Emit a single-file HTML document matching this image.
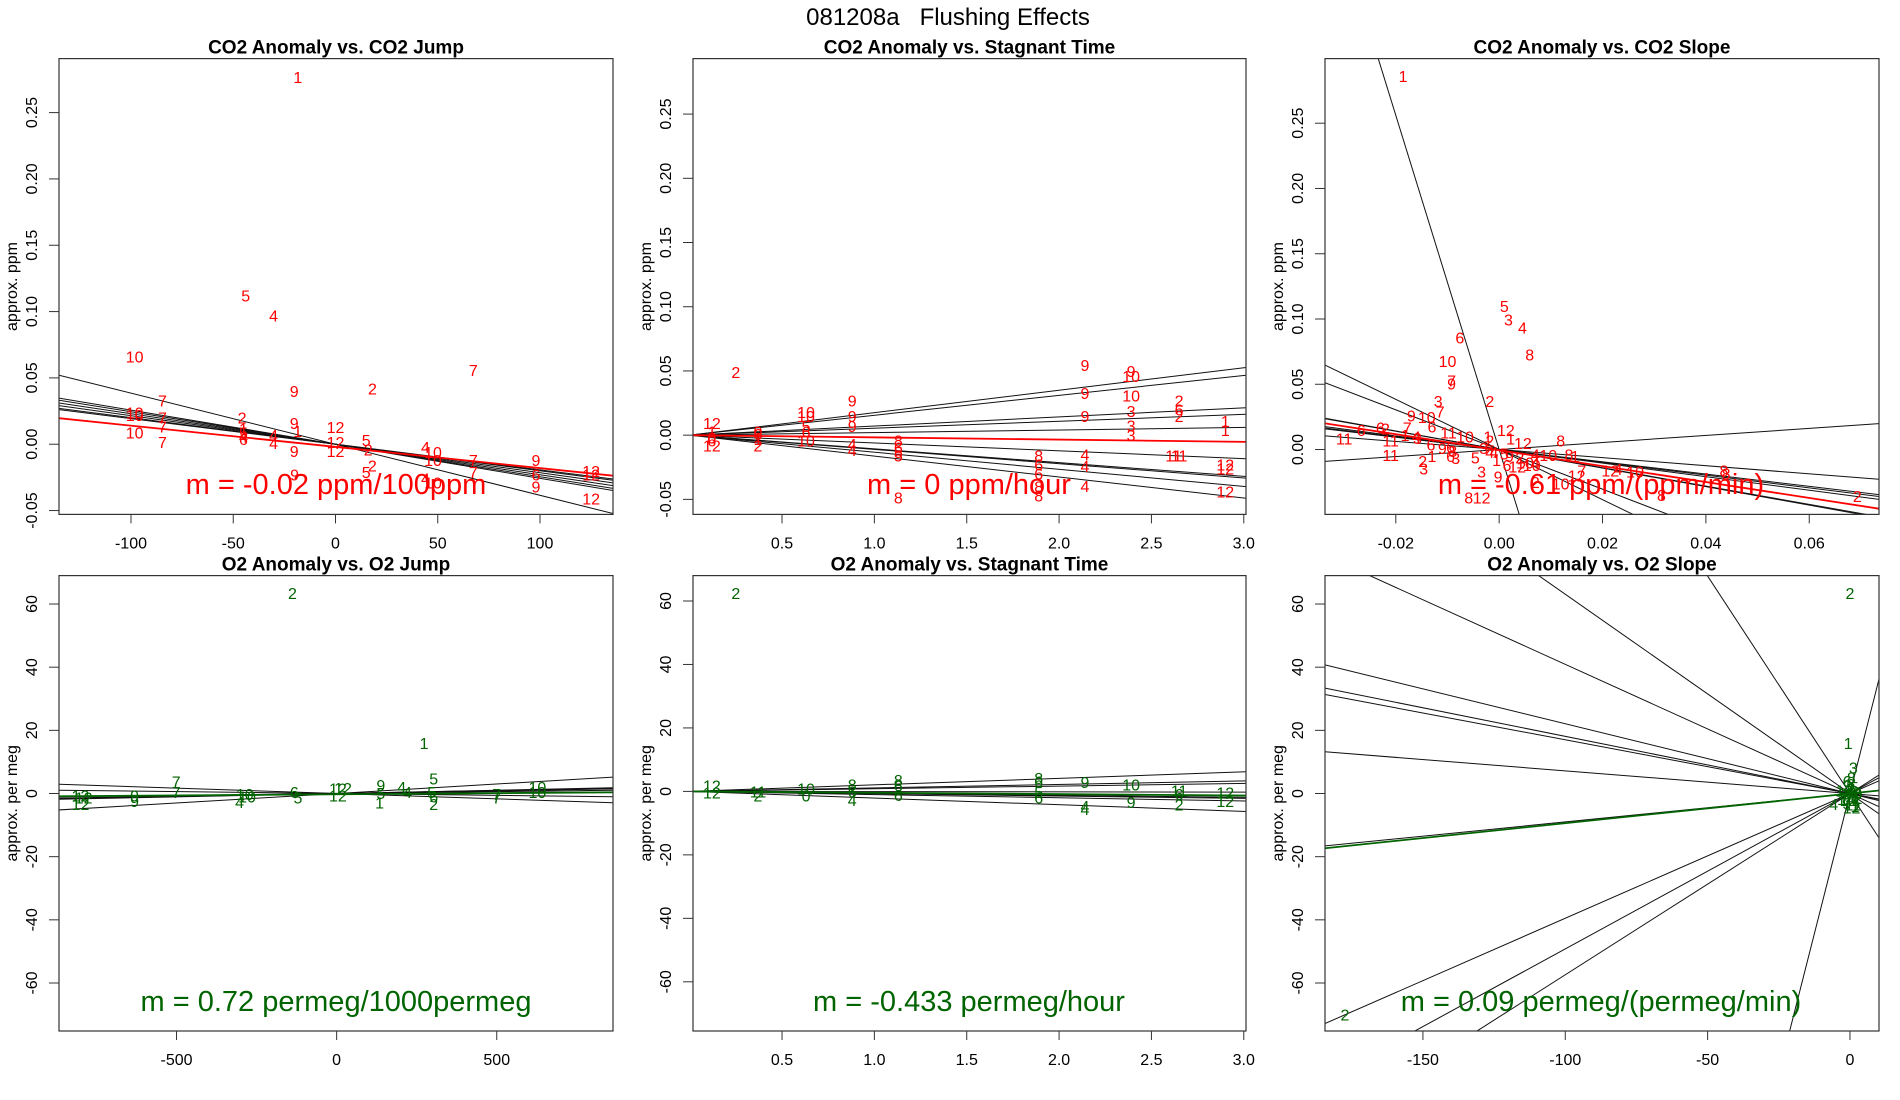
<!DOCTYPE html>
<html><head><meta charset="utf-8"><style>
html,body{margin:0;padding:0;background:#fff;overflow:hidden;width:1900px;height:1100px;}
svg{display:block;font-family:"Liberation Sans",Arial,sans-serif;}
</style></head><body>
<svg id="fig" width="1900" height="1100" viewBox="0 0 1900 1100" xmlns="http://www.w3.org/2000/svg">
<rect width="1900" height="1100" fill="#fff"/>
<text x="948" y="25" font-size="24" text-anchor="middle" xml:space="preserve" style="white-space:pre">081208a   Flushing Effects</text>
</svg>
<script>
// ---- Panel 1: CO2 Anomaly vs CO2 Jump ----
const p1X=[-18.4,-43.9,-30.3,-98.2,67.4,-20.2,18.1,-84.6,-98.2,-98.2,-84.6,-45.7,-20.2,-18.5,0,-84.6,-98.2,-84.6,-45,-45,-45,-45,-30.3,-30.3,-20.2,0,0,15,16,44,47.7,47.7,67.4,67.4,18,15,-20,98,98,98,125,125,125,44,47.7];
const p1Y=[0.277,0.112,0.097,0.066,0.056,0.040,0.042,0.033,0.024,0.022,0.020,0.020,0.016,0.010,0.013,0.0135,0.009,0.0015,0.012,0.009,0.006,0.004,0.007,0.001,-0.005,0.0015,-0.005,0.003,-0.004,-0.002,-0.006,-0.012,-0.012,-0.021,-0.016,-0.021,-0.023,-0.012,-0.023,-0.032,-0.020,-0.023,-0.041,-0.026,-0.029];
const p1Lab=['1','5','4','10','7','9','2','7','10','10','7','2','9','1','12','7','10','7','1','5','4','6','4','4','9','12','12','5','2','4','10','10','7','7','2','5','9','9','6','9','12','12','12','4','10'];
const p1Slopes=[-0.000385,-0.000257,-0.000245,-0.00023,-0.000215,-0.0002,-0.000193];
const p1Fit=[-0.002,-0.00016];
const p1XTicks=[-100,-50,0,50,100];
const p1YTicks=[-0.05,0,0.05,0.10,0.15,0.20,0.25];

// ---- Panel 2: CO2 Anomaly vs Stagnant Time ----
const p2X=[0.25,0.12,0.12,0.12,0.12,0.12,0.37,0.37,0.37,0.37,0.63,0.63,0.63,0.63,0.63,0.88,0.88,0.88,0.88,0.88,1.13,1.13,1.13,1.13,1.13,1.89,1.89,1.89,1.89,1.89,2.14,2.14,2.14,2.14,2.14,2.14,2.39,2.39,2.39,2.39,2.39,2.39,2.65,2.65,2.65,2.65,2.62,2.9,2.9,2.9,2.9,2.9];
const p2Y=[0.049,0.0096,0.003,-0.002,-0.004,-0.008,0.003,0.001,-0.003,-0.008,0.018,0.015,0.007,0.003,-0.004,0.027,0.015,0.007,-0.007,-0.0115,-0.004,-0.0095,-0.013,-0.016,-0.0486,-0.016,-0.023,-0.030,-0.040,-0.047,0.0546,0.033,0.015,-0.015,-0.024,-0.0396,0.050,0.046,0.031,0.019,0.0077,0.0,0.027,0.020,0.015,-0.016,-0.016,0.011,0.004,-0.023,-0.026,-0.044];
const p2Lab=['2','12','1','0','6','12','0','6','1','2','10','10','5','6','10','9','9','9','4','4','8','6','5','5','8','8','6','6','8','8','9','9','9','4','4','4','9','10','10','3','3','3','2','6','2','11','11','1','1','12','12','12'];
const p2Slopes=[0.0175,0.0155,0.0071,0.0054,0.002,-0.0061,-0.0107,-0.0111,-0.0133,-0.0163];
const p2Fit=[0,-0.00173];
const p2XTicks=[0.5,1.0,1.5,2.0,2.5,3.0];
const p2YTicks=[-0.05,0,0.05,0.10,0.15,0.20,0.25];

// ---- Panel 3: CO2 Anomaly vs CO2 Slope ----
const p3X=[-0.0186,0.001,0.0018,0.0045,-0.0076,0.0059,-0.010,-0.0092,-0.0092,-0.0018,-0.0118,-0.0114,-0.017,-0.014,-0.013,-0.0267,-0.023,-0.022,-0.0178,-0.030,-0.021,-0.021,-0.0182,-0.016,-0.0158,-0.0098,-0.0066,0.0013,-0.0022,-0.0018,0.0022,0.0119,0.0046,0.007,-0.0046,-0.0034,-0.0002,-0.0059,-0.0034,-0.0146,-0.0148,-0.013,-0.0094,-0.0084,0.0135,0.0147,-0.0018,0.007,0.0095,0.015,0.016,0.0215,0.023,0.0263,0.0035,0.0063,0.0119,0.007,0.0435,0.0439,0.0314,0.0693,-0.0132,-0.0094,-0.009,-0.003,-0.001,0.001,0.002,0.004,-0.0005,0.0015,0.005,-0.011];
const p3Y=[0.286,0.110,0.0997,0.0935,0.086,0.0728,0.068,0.0527,0.0505,0.037,0.037,0.029,0.026,0.025,0.0177,0.015,0.017,0.016,0.017,0.0083,0.007,-0.0043,0.011,0.010,0.009,0.013,0.010,0.015,0.010,0.007,0.0083,0.007,0.005,-0.0105,-0.006,-0.0167,-0.0207,-0.0368,-0.0368,-0.0145,-0.0086,-0.005,-0.005,-0.0065,-0.004,-0.005,-0.002,-0.004,-0.0043,-0.02,-0.016,-0.016,-0.015,-0.017,-0.013,-0.012,-0.026,-0.025,-0.0159,-0.0185,-0.035,-0.0355,0.004,0.002,-0.001,0.001,-0.002,-0.003,-0.005,-0.006,-0.008,-0.012,-0.01,0.001];
const p3Lab=['1','5','3','4','6','8','10','7','9','2','3','7','9','10','6','6','6','2','7','11','11','11','1','4','3','11','10','12','1','2','1','8','12','4','5','3','9','8','12','3','2','1','6','3','8','1','4','4','10','12','7','12','4','10','12','10','10','2','8','8','8','2','6','6','8','3','4','5','9','2','1','6','10','9'];
const p3Slopes=[-12.8,-1.92,-1.52,-0.71,-0.70,-0.52,-0.49,-0.47,-0.31,0.27];
const p3Fit=[-0.0005,-0.61];
const p3XTicks=[-0.02,0,0.02,0.04,0.06];
const p3YTicks=[0,0.05,0.10,0.15,0.20,0.25];

// ---- Panel 4: O2 Anomaly vs O2 Jump ----
const p4X=[-138,273,303,-501,-501,-800,-790,-800,-631,-631,-287,-280,-303,-132,-121,4,20,4,138,134,138,203,221,297,303,303,500,500,627,627];
const p4Y=[63.5,16,4.7,3.8,0.4,-0.7,-1.2,-3.4,-0.7,-2.3,-0.1,-1.0,-2.7,0.4,-1.2,1.6,1.8,-0.7,2.7,-2.9,0.2,2.1,0.4,0.4,-3.4,-1.0,-0.1,-1.2,2.1,0.4];
const p4Lab=['2','1','5','7','7','12','12','12','9','9','10','10','4','6','5','12','12','12','9','1','5','4','4','5','2','6','7','7','10','10'];
const p4Slopes=[-0.0034,-0.0012,0.0012,0.0017,0.0018,0.0019,0.0021,0.006];
const p4Fit=[-0.25,0.00072];
const p4XTicks=[-500,0,500];
const p4YTicks=[-60,-40,-20,0,20,40,60];

// ---- Panel 5: O2 Anomaly vs Stagnant Time ----
const p5X=[0.25,0.12,0.12,0.37,0.37,0.63,0.63,0.88,0.88,0.88,1.13,1.13,1.13,1.89,1.89,1.89,1.89,2.14,2.14,2.14,2.39,2.39,2.65,2.65,2.65,2.9,2.9];
const p5Y=[62.5,1.8,-0.4,0,-1.3,0.9,-1.3,2.2,0,-2.7,3.6,1.8,-1.1,4.2,3.1,-0.2,-1.9,2.9,-4.6,-5.5,2.2,-3.3,0.3,-0.8,-4.1,-0.4,-3.0];
const p5Lab=['2','12','12','11','2','10','0','8','6','4','8','6','6','8','6','5','6','9','4','4','10','9','11','6','2','12','12'];
const p5Slopes=[2.06,1.1,0.84,-0.07,-0.44,-0.62,-0.73,-1.0,-2.1];
const p5Fit=[0,-0.433];
const p5XTicks=[0.5,1.0,1.5,2.0,2.5,3.0];
const p5YTicks=[-60,-40,-20,0,20,40,60];

// ---- Panel 6: O2 Anomaly vs O2 Slope ----
const p6X=[0,-177.4,-0.6,1.2,-5.7,-1,0.5,1.5,-2,2.5,0,-0.5,1,-1.5,2,0.3,-2.5,1.8,-0.8,0.6,2.8,-3,0.2,1.2,-1.2];
const p6Y=[63.5,-70,16,8.2,-3.4,4,5,2,1,0.5,-1,-2,-3.5,-0.5,-2,3,0,-4,2.5,-4.5,-1.5,-1.8,1.5,0,-3];
const p6Lab=['2','2','1','3','4','6','8','5','10','2','9','12','11','7','4','6','5','1','3','12','2','1','8','10','9'];
const p6Slopes=[-0.221,-0.181,-0.170,-0.0717,0.09,0.395,-0.409,-0.631,-1.377,0.492,0.574,3.55];
const p6Fit=[0,0.094];
const p6XTicks=[-150,-100,-50,0];
const p6YTicks=[-60,-40,-20,0,20,40,60];

const NS='http://www.w3.org/2000/svg';
const fig=document.getElementById('fig');
function mk(tag,attrs,parent){const e=document.createElementNS(NS,tag);for(const k in attrs)e.setAttribute(k,attrs[k]);(parent||fig).appendChild(e);return e;}

function panel(o){
  const g=mk('g',{});
  
  
  const sx=v=>o.L+(v-o.xlim[0])/(o.xlim[1]-o.xlim[0])*(o.R-o.L);
  const sy=v=>o.B-(v-o.ylim[0])/(o.ylim[1]-o.ylim[0])*(o.B-o.T);
  const cid='clip-'+o.name;
  const cp=mk('clipPath',{id:cid},g);
  mk('rect',{x:o.L,y:o.T,width:o.R-o.L,height:o.B-o.T},cp);
  const t=mk('text',{x:(o.L+o.R)/2,y:o.T-5,'font-size':19,'font-weight':'bold','text-anchor':'middle'},g);
  t.textContent=o.title;
  
  
  const yl=mk('text',{x:0,y:0,'font-size':16,'text-anchor':'middle',transform:`translate(${o.L-42},${(o.T+o.B)/2}) rotate(-90)`},g);
  yl.textContent=o.ylab;
  
  
  const lg=mk('g',{'clip-path':`url(#${cid})`},g);
  o.slopes.forEach(s=>{
    const x0=o.xlim[0],x1=o.xlim[1];
    const ln=mk('line',{x1:sx(x0),y1:sy(s*x0),x2:sx(x1),y2:sy(s*x1),stroke:'#111','stroke-width':1},lg);
    
    
  });
  {
    const x0=o.xlim[0],x1=o.xlim[1],b=o.fit[0],m=o.fit[1];
    const ln=mk('line',{x1:sx(x0),y1:sy(b+m*x0),x2:sx(x1),y2:sy(b+m*x1),stroke:o.color,'stroke-width':1.8},lg);
    
    
  }
  const n=Math.min(o.px.length,o.py.length,o.lab.length);
  for(let i=0;i<n;i++){
    const p=mk('text',{x:sx(o.px[i]),y:sy(o.py[i])+6,'font-size':16,fill:o.color,'text-anchor':'middle'},g);
    p.textContent=o.lab[i];
    
    
  }
  const st=mk('text',{x:o.mx,y:o.my,'font-size':29,fill:o.color,'text-anchor':'middle'},g);
  st.textContent=o.mtext;
  
  
  const bx=mk('rect',{x:o.L,y:o.T,width:o.R-o.L,height:o.B-o.T,fill:'none',stroke:'#333','stroke-width':1.2},g);
  
  
  o.xt.forEach(v=>{
    const X=sx(v);
    mk('line',{x1:X,y1:o.B,x2:X,y2:o.B+9,stroke:'#333'},g);
    const tl=mk('text',{x:X,y:o.B+34,'font-size':16,'text-anchor':'middle'},g);
    tl.textContent=o.xf(v);
    
    
  });
  o.yt.forEach(v=>{
    const Y=sy(v);
    mk('line',{x1:o.L-10,y1:Y,x2:o.L,y2:Y,stroke:'#333'},g);
    const tl=mk('text',{x:0,y:0,'font-size':16,'text-anchor':'middle',transform:`translate(${o.L-22},${Y}) rotate(-90)`},g);
    tl.textContent=o.yf(v);
    
    
  });
}
const f2=v=>v.toFixed(2), f1=v=>v.toFixed(1), f0=v=>String(v);
const RED='#ff0000', GRN='#006400';
const topT=58.6, topB=514.4, botT=575.6, botB=1031;
panel({name:'co2-vs-jump',L:59,R:613,T:topT,B:topB,xlim:[-135.2,135.7],ylim:[-0.0529,0.2907],title:'CO2 Anomaly vs. CO2 Jump',ylab:'approx. ppm',px:p1X,py:p1Y,lab:p1Lab,slopes:p1Slopes,fit:p1Fit,color:RED,xt:p1XTicks,yt:p1YTicks,xf:f0,yf:f2,mtext:'m = -0.02 ppm/100ppm',mx:336,my:494});
panel({name:'co2-vs-stagnant',L:693,R:1246,T:topT,B:topB,xlim:[0.018,3.012],ylim:[-0.0617,0.2932],title:'CO2 Anomaly vs. Stagnant Time',ylab:'approx. ppm',px:p2X,py:p2Y,lab:p2Lab,slopes:p2Slopes,fit:p2Fit,color:RED,xt:p2XTicks,yt:p2YTicks,xf:f1,yf:f2,mtext:'m = 0 ppm/hour',mx:969,my:494});
panel({name:'co2-vs-slope',L:1325,R:1879,T:topT,B:topB,xlim:[-0.0337,0.0735],ylim:[-0.0497,0.2995],title:'CO2 Anomaly vs. CO2 Slope',ylab:'approx. ppm',px:p3X,py:p3Y,lab:p3Lab,slopes:p3Slopes,fit:p3Fit,color:RED,xt:p3XTicks,yt:p3YTicks,xf:f2,yf:f2,mtext:'m = -0.61 ppm/(ppm/min)',mx:1601,my:494});
panel({name:'o2-vs-jump',L:59,R:613,T:botT,B:botB,xlim:[-867,863],ylim:[-75.2,69],title:'O2 Anomaly vs. O2 Jump',ylab:'approx. per meg',px:p4X,py:p4Y,lab:p4Lab,slopes:p4Slopes,fit:p4Fit,color:GRN,xt:p4XTicks,yt:p4YTicks,xf:f0,yf:f0,mtext:'m = 0.72 permeg/1000permeg',mx:336,my:1011});
panel({name:'o2-vs-stagnant',L:693,R:1246,T:botT,B:botB,xlim:[0.018,3.012],ylim:[-75.5,68],title:'O2 Anomaly vs. Stagnant Time',ylab:'approx. per meg',px:p5X,py:p5Y,lab:p5Lab,slopes:p5Slopes,fit:p5Fit,color:GRN,xt:p5XTicks,yt:p5YTicks,xf:f1,yf:f0,mtext:'m = -0.433 permeg/hour',mx:969,my:1011});
panel({name:'o2-vs-slope',L:1325,R:1879,T:botT,B:botB,xlim:[-184.4,10.2],ylim:[-75.2,69],title:'O2 Anomaly vs. O2 Slope',ylab:'approx. per meg',px:p6X,py:p6Y,lab:p6Lab,slopes:p6Slopes,fit:p6Fit,color:GRN,xt:p6XTicks,yt:p6YTicks,xf:f0,yf:f0,mtext:'m = 0.09 permeg/(permeg/min)',mx:1601,my:1011});
</script>
</body></html>
